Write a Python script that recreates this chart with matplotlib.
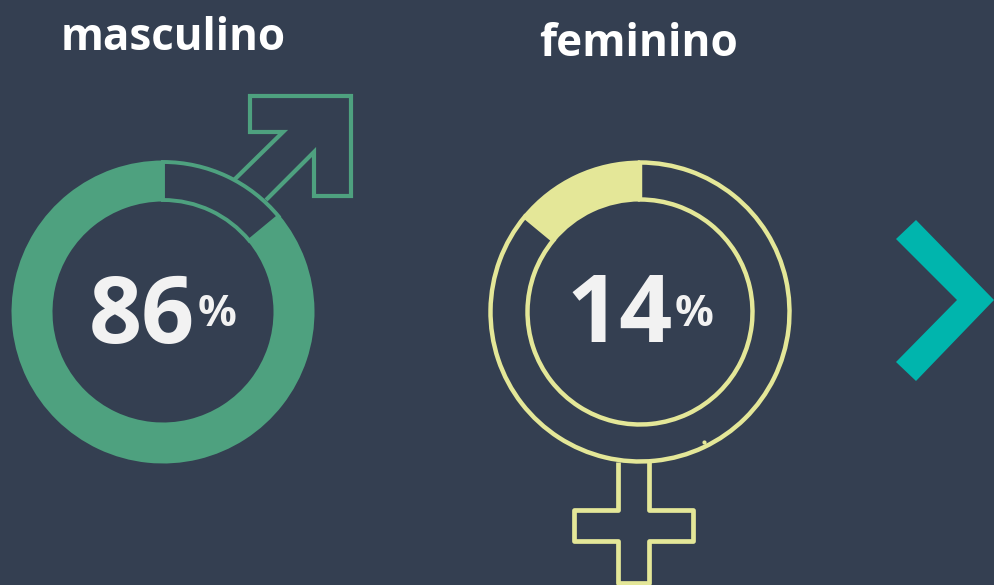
import matplotlib
matplotlib.use("Agg")
import matplotlib.pyplot as plt
from matplotlib.patches import Polygon

W, H = 994, 585
BG = "#343F51"
GREEN = "#4EA17F"
YELLOW = "#E4E798"
TEAL = "#00B5AD"
WHITE = "#F2F2F2"

categories = ["masculino", "feminino"]
shares = [86, 14]

plt.rcParams["font.family"] = ["Open Sans", "DejaVu Sans"]
fig = plt.figure(figsize=(W / 100, H / 100), dpi=100, facecolor=BG)
ax = fig.add_axes([0, 0, 1, 1], facecolor=BG)


def Y(py):
    return H - py


def pts(seq):
    return [(x, Y(y)) for x, y in seq]


# male donut: highlighted share runs clockwise and ends at the top
ax.pie([100 - shares[0], shares[0]], center=(163, Y(312)), radius=151.5,
       startangle=90, counterclock=False, frame=True,
       colors=[BG, GREEN],
       wedgeprops=dict(width=41, linewidth=0))
ax.pie([(100 - shares[0]) / 100], normalize=False, center=(163, Y(312)), radius=150,
       startangle=90, counterclock=False, frame=True,
       colors=["none"],
       wedgeprops=dict(width=38, linewidth=2.8, edgecolor=GREEN))

# female donut: highlighted share runs counter-clockwise from the top
ax.pie([shares[1], 100 - shares[1]], center=(640, Y(312)), radius=151.5,
       startangle=90, counterclock=True, frame=True,
       colors=[YELLOW, BG],
       wedgeprops=dict(width=41, linewidth=0))
ax.pie([(100 - shares[1]) / 100], normalize=False, center=(640, Y(312)), radius=149.5,
       startangle=90, counterclock=False, frame=True,
       colors=["none"],
       wedgeprops=dict(width=37, linewidth=3.2, edgecolor=YELLOW))

ax.set_xlim(0, W)
ax.set_ylim(0, H)
ax.set_aspect("equal")
ax.axis("off")

# male arrow
arrow = [(234, 180), (283, 132), (250, 132), (250, 96), (351, 96), (351, 196),
         (314, 196), (314, 152), (266, 200)]
ax.plot(*zip(*pts(arrow)), color=GREEN, lw=3, solid_joinstyle="miter", solid_capstyle="butt")

# female cross
cross = [(618, 462), (618, 510), (574, 510), (574, 541), (618, 541), (618, 583),
         (649, 583), (649, 541), (693, 541), (693, 510), (649, 510), (649, 462)]
ax.plot(*zip(*pts(cross)), color=YELLOW, lw=3.4, solid_joinstyle="round", solid_capstyle="butt")
ax.plot([704], [Y(442)], "o", color=YELLOW, ms=3, mew=0)

# chevron
chevron = [(916, 220), (994, 300), (916, 381), (896, 362), (957, 300), (896, 239)]
ax.add_patch(Polygon(pts(chevron), closed=True, facecolor=TEAL, edgecolor="none"))

# titles
ax.text(173.5, Y(38), categories[0], color="white", fontsize=31.6, fontweight="bold",
        ha="center", va="center")
ax.text(638.5, Y(44), categories[1], color="white", fontsize=31.8, fontweight="bold",
        ha="center", va="center")

# percentages
for cx, val, sx in [(142, shares[0], 217), (620, shares[1], 694)]:
    ax.text(cx, Y(318), str(val), color=WHITE, fontsize=67, fontweight="bold",
            ha="center", va="center")
    ax.text(sx, Y(314), "%", color=WHITE, fontsize=31, fontweight="bold",
            ha="center", va="center")

fig.savefig("out.png", dpi=100, facecolor=BG)
